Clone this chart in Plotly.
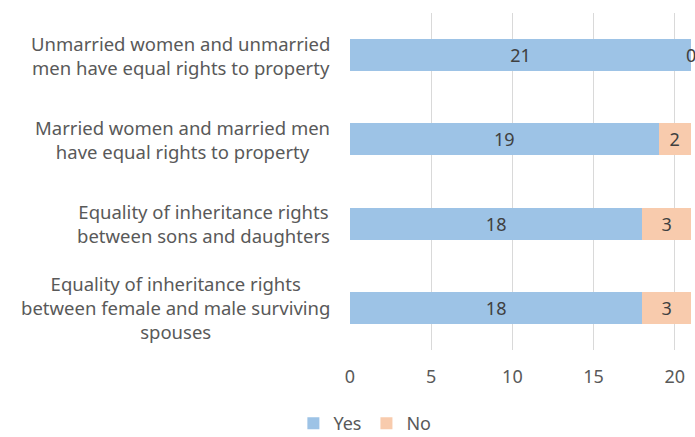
import plotly.graph_objects as go

categories = [
    "Unmarried women and unmarried<br>men have equal rights to property",
    "Married women and married men<br>have equal rights to property",
    "Equality of inheritance rights<br>between sons and daughters",
    "Equality of inheritance rights<br>between female and male surviving<br>spouses",
]
yes_values = [21, 19, 18, 18]
no_values = [0, 2, 3, 3]
x_ticks = [0, 5, 10, 15, 20]

FONT = "Noto Sans"
yes_color = "#9DC3E6"
no_color = "#F8CBAD"
label_color = "#595959"
value_color = "#404040"

ids = list(range(len(categories)))

fig = go.Figure()
fig.add_trace(go.Bar(
    y=ids, x=yes_values, orientation="h", name="Yes",
    marker=dict(color=yes_color, line=dict(width=0)),
    text=[str(v) for v in yes_values], textposition="inside",
    insidetextanchor="middle", constraintext="none",
    textfont=dict(family=FONT, size=18, color=value_color),
))
fig.add_trace(go.Bar(
    y=ids, x=no_values, orientation="h", name="No",
    marker=dict(color=no_color, line=dict(width=0)),
    text=[str(v) if v > 0 else "" for v in no_values],
    textposition="inside",
    insidetextanchor="middle", constraintext="none",
    textfont=dict(family=FONT, size=18, color=value_color),
))

# zero-valued "No" labels sit at the end of the stacked bar
for i, (y_v, n_v) in enumerate(zip(yes_values, no_values)):
    if n_v == 0:
        fig.add_annotation(
            x=y_v + n_v, xref="x", y=i, yref="y", text=str(n_v),
            showarrow=False, xanchor="center", yanchor="middle",
            font=dict(family=FONT, size=18, color=value_color),
        )

for i, c in zip(ids, categories):
    fig.add_annotation(
        x=0, xref="paper", y=i, yref="y", text=c, showarrow=False,
        xanchor="right", yanchor="middle", align="center", xshift=-18,
        font=dict(family=FONT, size=18.5, color=label_color),
    )

fig.update_layout(
    barmode="stack", bargap=0.62,
    width=695, height=437,
    margin=dict(l=350, r=4, t=13, b=87, autoexpand=False),
    paper_bgcolor="white", plot_bgcolor="white",
    font=dict(family=FONT, size=18, color=label_color),
    showlegend=True,
    legend=dict(orientation="h", xref="container", yref="paper",
                x=0.525, xanchor="center", y=-0.218, yanchor="middle",
                font=dict(family=FONT, size=18, color=label_color),
                itemwidth=30, traceorder="normal"),
    xaxis=dict(range=[0, 21], tickvals=x_ticks, showgrid=True,
               gridcolor="#D9D9D9", gridwidth=1, zeroline=False,
               showline=False, ticks="", ticklabelstandoff=14,
               tickfont=dict(family=FONT, size=18, color=label_color)),
    yaxis=dict(range=[3.5, -0.5], showticklabels=False, showgrid=False,
               zeroline=False, showline=False),
)

fig.write_html("out.html", config={"displayModeBar": False},
               post_script="document.body.style.margin='0';")
